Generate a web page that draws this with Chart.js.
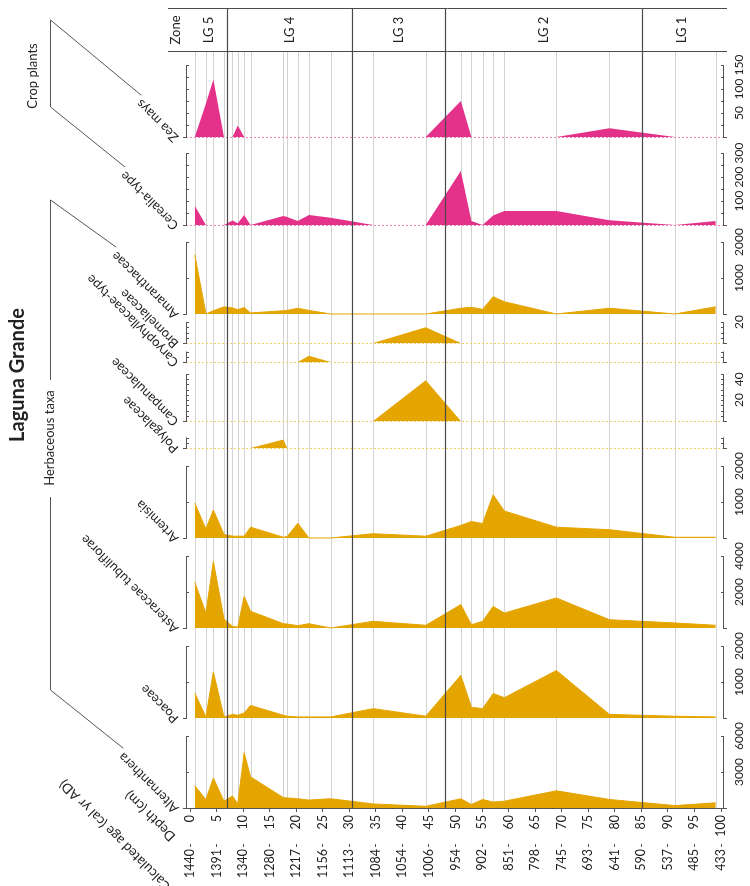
<!DOCTYPE html>
<html>
<head>
<meta charset="utf-8">
<script src="https://cdn.jsdelivr.net/npm/chart.js@4.4.1/dist/chart.umd.min.js"></script>
<style>
  html, body { margin: 0; padding: 0; background: #fff; }
  #wrap { width: 750px; height: 886px; }
</style>
</head>
<body>
<div id="wrap"><canvas id="myChart" width="750" height="886"></canvas></div>
<script>
// Sample depths (cm)
const depths = [0.9, 3.0, 4.4, 6.4, 8.0, 9.0, 10.2, 11.4, 17.6, 18.3, 20.3, 22.4, 26.5, 34.5, 44.4, 51.0, 53.0, 55.1, 57.1, 59.2, 69.0, 79.0, 91.3, 99.0];

// Depth ticks and calculated ages (cal yr AD)
const depthTicks = [0, 5, 10, 15, 20, 25, 30, 35, 40, 45, 50, 55, 60, 65, 70, 75, 80, 85, 90, 95, 100];
const ageLabels = [1440, 1391, 1340, 1280, 1217, 1156, 1113, 1084, 1054, 1006, 954, 902, 851, 798, 745, 693, 641, 590, 537, 485, 433];

// Zones
const zoneNames = ["LG 5", "LG 4", "LG 3", "LG 2", "LG 1"];
const zoneBounds = [0, 7.0, 30.6, 48.1, 85.2, 100];

// Taxa (top of the picture first)
const taxa = ["Zea mays", "Cerealia-type", "Amaranthaceae", "Bromeliaceae", "Caryophyllaceae-type",
  "Campanulaceae", "Polygalaceae", "Artemisia", "Asteraceae tubuliflorae", "Poaceae", "Alternanthera"];

// Values per sample depth
const zeaMays       = [0, 70, 120, 0, 0, 24, 0, 0, 0, 0, 0, 0, 0, 0, 0, 75, 0, 0, 0, 0, 0, 18, 0, 0];
const cerealia      = [80, 0, 0, 0, 19, 7, 42, 0, 37, 33, 17, 42, 30, 0, 0, 225, 17, 0, 40, 58, 58, 20, 0, 17];
const amaranthaceae = [1650, 0, 90, 200, 170, 120, 180, 30, 90, 100, 160, 100, 0, 0, 0, 160, 185, 130, 480, 340, 0, 160, 0, 200];
const bromeliaceae  = [0, 0, 0, 0, 0, 0, 0, 0, 0, 0, 0, 0, 0, 0, 15, 0, 0, 0, 0, 0, 0, 0, 0, 0];
const caryophyll    = [0, 0, 0, 0, 0, 0, 0, 0, 0, 0, 0, 6, 0, 0, 0, 0, 0, 0, 0, 0, 0, 0, 0, 0];
const campanulaceae = [0, 0, 0, 0, 0, 0, 0, 0, 0, 0, 0, 0, 0, 0, 39, 0, 0, 0, 0, 0, 0, 0, 0, 0];
const polygalaceae  = [0, 0, 0, 0, 0, 0, 0, 0, 8, 0, 0, 0, 0, 0, 0, 0, 0, 0, 0, 0, 0, 0, 0, 0];
const artemisia     = [970, 250, 780, 100, 50, 50, 50, 300, 20, 45, 410, 0, 0, 120, 50, 350, 460, 400, 1200, 750, 300, 230, 20, 20];
const asteraceae    = [2540, 830, 3700, 500, 90, 50, 1760, 930, 240, 220, 130, 240, 0, 370, 150, 1300, 185, 370, 1200, 830, 1670, 460, 280, 150];
const poaceae       = [690, 30, 1280, 30, 100, 75, 140, 350, 75, 50, 30, 30, 30, 260, 50, 1185, 300, 260, 680, 565, 1320, 100, 50, 30];
const alternanthera = [1860, 700, 2500, 570, 1000, 350, 4600, 2600, 860, 840, 770, 660, 770, 340, 140, 770, 290, 710, 490, 570, 1430, 710, 200, 430];

const series = [zeaMays, cerealia, amaranthaceae, bromeliaceae, caryophyll, campanulaceae,
  polygalaceae, artemisia, asteraceae, poaceae, alternanthera];

// Scale of each panel
const scaleMax   = [150, 300, 2000, 20, 10, 45, 10, 2000, 4000, 2000, 6000];
const scaleStep  = [25, 50, 1000, 5, 5, 5, 5, 1000, 2000, 1000, 3000];
const scaleLabels = [[50, 100, 150], [100, 200, 300], [1000, 2000], [20], [], [20, 40], [], [1000, 2000], [2000, 4000], [1000, 2000], [3000, 6000]];

// Layout (pixels)
const TOP = 8, BOTTOM = 808;
const panelBase   = [137, 225, 314, 343, 362, 421, 448, 538, 628, 718, 808];
const panelHeight = [72, 72, 72, 21, 10.5, 47, 10.5, 72, 72, 72, 72];
const crop = [true, true, false, false, false, false, false, false, false, false, false];
const dashed = [true, true, false, true, true, true, true, false, false, false, false];

const YELLOW = "#e5a500";
const PINK = "#e4318a";
const FONT = "Lato, 'Open Sans', sans-serif";

const scales = {
  x: {
    type: "linear", position: "bottom", min: 0, max: 100,
    ticks: { stepSize: 5, autoSkip: false, minRotation: 90, maxRotation: 90, padding: 3, color: "#222", font: { family: FONT, size: 12.5 } },
    grid: { drawOnChartArea: false, drawTicks: true, tickLength: 4, color: "#555" },
    border: { display: true, color: "#555" },
    afterFit: (s) => { s.height = 36; },
  },
  age: {
    type: "linear", position: "bottom", min: 0, max: 100,
    afterBuildTicks: (s) => { s.ticks = depthTicks.map((v) => ({ value: v })); },
    ticks: { autoSkip: false, minRotation: 90, maxRotation: 90, padding: 2, color: "#222", font: { family: FONT, size: 12.5 },
      callback: (v) => ageLabels[depthTicks.indexOf(v)] },
    grid: { drawOnChartArea: false, drawTicks: true, tickLength: 3, color: "#555" },
    border: { display: false },
    afterFit: (s) => { s.height = 42; },
  },
};

taxa.forEach((t, i) => {
  const k = panelHeight[i] / scaleMax[i];
  scales["y" + i] = {
    type: "linear", display: false,
    min: -(BOTTOM - panelBase[i]) / k,
    max: (panelBase[i] - TOP) / k,
  };
});

const datasets = taxa.map((t, i) => ({
  label: t,
  yAxisID: "y" + i,
  data: depths.map((d, j) => ({ x: d, y: series[i][j] })),
  backgroundColor: crop[i] ? PINK : YELLOW,
  borderColor: crop[i] ? PINK : YELLOW,
  borderWidth: dashed[i] ? 0 : 1,
  fill: "origin",
  pointRadius: 0,
  tension: 0,
}));

function rotText(ctx, text, x, y, angle, align, baseline) {
  ctx.save();
  ctx.translate(x, y);
  ctx.rotate(angle);
  ctx.textAlign = align;
  ctx.textBaseline = baseline;
  ctx.fillText(text, 0, 0);
  ctx.restore();
}

const LEFT_AX = 186, RIGHT_AX = 723;

const decor = {
  id: "decor",
  beforeDatasetsDraw(chart) {
    const { ctx, scales } = chart;
    ctx.save();
    // sample lines
    ctx.strokeStyle = "#d2d2d2";
    ctx.lineWidth = 1;
    depths.forEach((d) => {
      const x = Math.round(scales.x.getPixelForValue(d)) + 0.5;
      ctx.beginPath(); ctx.moveTo(x, 51); ctx.lineTo(x, BOTTOM); ctx.stroke();
    });
    // dashed baselines
    taxa.forEach((t, i) => {
      if (!dashed[i]) return;
      const y = Math.round(scales["y" + i].getPixelForValue(0)) + 0.5;
      ctx.strokeStyle = crop[i] ? "#ee86b4" : "#efd06e";
      ctx.setLineDash([2, 2]);
      ctx.beginPath(); ctx.moveTo(LEFT_AX, y); ctx.lineTo(RIGHT_AX, y); ctx.stroke();
    });
    ctx.restore();
  },
  afterDatasetsDraw(chart) {
    const { ctx, scales } = chart;
    ctx.save();
    // zone lines and header
    ctx.strokeStyle = "#4a4a4a";
    ctx.lineWidth = 1.2;
    zoneBounds.slice(1, -1).forEach((d) => {
      const x = Math.round(scales.x.getPixelForValue(d)) + 0.5;
      ctx.beginPath(); ctx.moveTo(x, TOP); ctx.lineTo(x, BOTTOM); ctx.stroke();
    });
    ctx.lineWidth = 1;
    ctx.beginPath();
    ctx.moveTo(168, TOP + 0.5); ctx.lineTo(727, TOP + 0.5);
    ctx.moveTo(168, 51.5); ctx.lineTo(727, 51.5);
    ctx.stroke();
    ctx.fillStyle = "#222";
    ctx.font = "13px " + FONT;
    rotText(ctx, "Zone", 176, 30, -Math.PI / 2, "center", "middle");
    zoneNames.forEach((z, i) => {
      const x = (scales.x.getPixelForValue(zoneBounds[i]) + scales.x.getPixelForValue(zoneBounds[i + 1])) / 2;
      rotText(ctx, z, x, 30, -Math.PI / 2, "center", "middle");
    });

    // bottom axis line extended
    ctx.strokeStyle = "#555";
    ctx.beginPath(); ctx.moveTo(183, BOTTOM + 0.5); ctx.lineTo(727, BOTTOM + 0.5); ctx.stroke();

    // panel axes
    ctx.font = "12px " + FONT;
    taxa.forEach((t, i) => {
      const s = scales["y" + i];
      const y0 = s.getPixelForValue(0);
      const yTop = s.getPixelForValue(scaleMax[i]);
      ctx.strokeStyle = "#555";
      ctx.lineWidth = 1;
      ctx.beginPath();
      ctx.moveTo(LEFT_AX + 0.5, y0); ctx.lineTo(LEFT_AX + 0.5, yTop);
      ctx.moveTo(RIGHT_AX + 0.5, y0); ctx.lineTo(RIGHT_AX + 0.5, yTop);
      ctx.moveTo(LEFT_AX - 3, Math.round(y0) + 0.5); ctx.lineTo(LEFT_AX + 1, Math.round(y0) + 0.5);
      ctx.moveTo(RIGHT_AX, Math.round(y0) + 0.5); ctx.lineTo(RIGHT_AX + 4, Math.round(y0) + 0.5);
      for (let v = scaleStep[i]; v <= scaleMax[i] + 0.001; v += scaleStep[i]) {
        const y = Math.round(s.getPixelForValue(v)) + 0.5;
        ctx.moveTo(LEFT_AX, y); ctx.lineTo(LEFT_AX + 3, y);
        ctx.moveTo(RIGHT_AX + 1, y); ctx.lineTo(RIGHT_AX - 2, y);
      }
      ctx.stroke();
      ctx.fillStyle = "#222";
      scaleLabels[i].forEach((v) => {
        rotText(ctx, String(v), 739, s.getPixelForValue(v), -Math.PI / 2, "center", "middle");
      });
    });

    // taxon names
    ctx.font = "13px " + FONT;
    ctx.fillStyle = "#222";
    const ends = [];
    taxa.forEach((t, i) => {
      const y0 = scales["y" + i].getPixelForValue(0);
      const ax = 181, ay = y0 - 2;
      rotText(ctx, t, ax, ay, -3 * Math.PI / 4, "left", "bottom");
      const w = ctx.measureText(t).width * Math.SQRT1_2;
      ends.push([ax - w - 2, ay - w - 2]);
    });
    ctx.font = "13.5px " + FONT;
    rotText(ctx, "Depth (cm)", 178, 834, -3 * Math.PI / 4, "left", "bottom");
    rotText(ctx, "Calculated age (cal yr AD)", 173, 884, -3 * Math.PI / 4, "left", "bottom");

    // group brackets
    ctx.strokeStyle = "#555";
    ctx.lineWidth = 1;
    ctx.beginPath();
    ctx.moveTo(ends[0][0], ends[0][1]); ctx.lineTo(50.5, 20); ctx.lineTo(50.5, 107); ctx.lineTo(ends[1][0], ends[1][1]);
    ctx.moveTo(ends[2][0], ends[2][1]); ctx.lineTo(50.5, 200); ctx.lineTo(50.5, 380);
    ctx.moveTo(50.5, 497); ctx.lineTo(50.5, 690); ctx.lineTo(ends[10][0], ends[10][1]);
    ctx.stroke();
    ctx.font = "13px " + FONT;
    rotText(ctx, "Crop plants", 33, 76, -Math.PI / 2, "center", "middle");
    rotText(ctx, "Herbaceous taxa", 50, 438, -Math.PI / 2, "center", "middle");

    ctx.font = "bold 20px " + FONT;
    rotText(ctx, "Laguna Grande", 18, 375, -Math.PI / 2, "center", "middle");
    ctx.restore();
  },
};

new Chart(document.getElementById("myChart"), {
  type: "line",
  data: { datasets: datasets },
  options: {
    responsive: false,
    animation: false,
    layout: { padding: { left: 190, right: 29, top: TOP, bottom: 0 } },
    scales: scales,
    plugins: { legend: { display: false }, tooltip: { enabled: false } },
  },
  plugins: [decor],
});
</script>
</body>
</html>
